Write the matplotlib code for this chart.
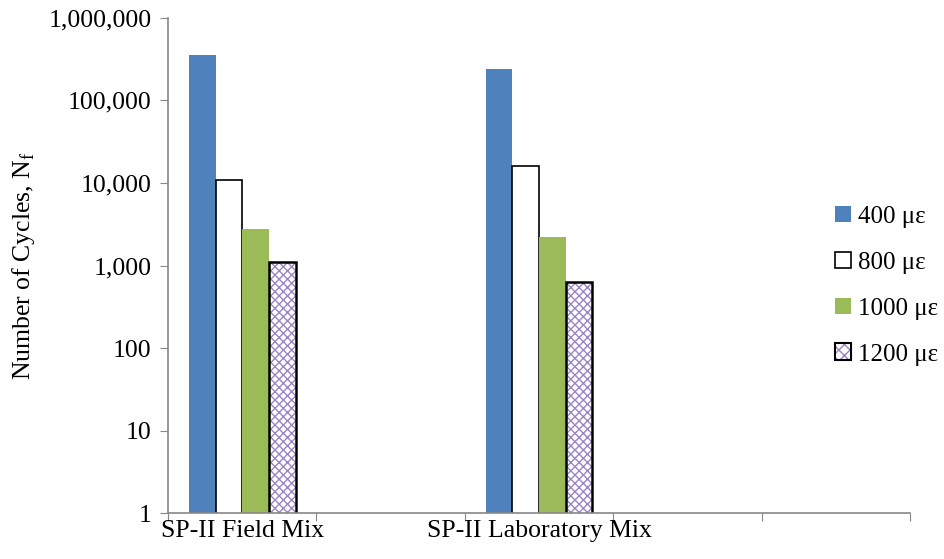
import numpy as np
import matplotlib.pyplot as plt
from matplotlib.patches import Patch
from matplotlib.ticker import FuncFormatter, FixedLocator

plt.rcParams['font.family'] = ['Liberation Serif', 'DejaVu Serif']
plt.rcParams['mathtext.fontset'] = 'custom'
plt.rcParams['mathtext.rm'] = 'Liberation Serif'
plt.rcParams['hatch.linewidth'] = 1.0

# data
categories = ['SP-II Field Mix', '', 'SP-II Laboratory Mix', '', '']
series = ['400 με', '800 με', '1000 με', '1200 με']
cycles_400 = [355000, None, 240000, None, None]
cycles_800 = [10900, None, 16100, None, None]
cycles_1000 = [2760, None, 2220, None, None]
cycles_1200 = [1100, None, 630, None, None]

fig = plt.figure(figsize=(9.44, 5.59), dpi=100)
ax = fig.add_axes([0.178, 0.082, 0.786, 0.886])

x = np.arange(len(categories))
w = 0.18
values = [cycles_400, cycles_800, cycles_1000, cycles_1200]
offsets = [-1.5, -0.5, 0.5, 1.5]
hatch_col = '#9A86C4'
fs = 18.5

for vals, off, name in zip(values, offsets, series):
    xs = [xi + off * w for xi, v in zip(x, vals) if v is not None]
    vs = [v for v in vals if v is not None]
    if name == '400 με':
        ax.bar(xs, vs, w, color='#4F81BD', edgecolor='none')
    elif name == '800 με':
        ax.bar(xs, vs, w, color='white', edgecolor='black', linewidth=1.2)
    elif name == '1000 με':
        ax.bar(xs, vs, w, color='#9BBB59', edgecolor='none')
    else:
        ax.bar(xs, vs, w, color='white', edgecolor=hatch_col, hatch='xxxx', linewidth=0)
        ax.bar(xs, vs, w, color='none', edgecolor='black', linewidth=1.8)

ax.set_yscale('log')
ax.set_ylim(1, 1e6)
ax.set_xlim(-0.5, 4.5)
ax.yaxis.set_major_locator(FixedLocator([1, 10, 100, 1e3, 1e4, 1e5, 1e6]))
ax.yaxis.set_minor_locator(FixedLocator([]))
ax.yaxis.set_major_formatter(FuncFormatter(lambda v, p: f'{int(round(v)):,}'))

# category boundaries as ticks, labels centred in each slot
ax.set_xticks(np.arange(-0.5, 5.0, 1.0))
ax.set_xticklabels([])
ax.set_xticks(x, minor=True)
ax.set_xticklabels(categories, minor=True)
ax.tick_params(axis='x', which='minor', length=0, labelsize=fs, pad=5)
ax.tick_params(axis='x', which='major', length=6, color='#888888', direction='out')
ax.tick_params(axis='y', which='major', length=6, color='#888888', labelsize=fs, pad=6)

for s in ['top', 'right']:
    ax.spines[s].set_visible(False)
for s in ['left', 'bottom']:
    ax.spines[s].set_color('#888888')
    ax.spines[s].set_linewidth(1.2)

ax.set_ylabel(r'Number of Cycles, N$_\mathregular{f}$', fontsize=fs, labelpad=8)

handles = [
    Patch(facecolor='#4F81BD', edgecolor='none'),
    Patch(facecolor='white', edgecolor='black', linewidth=1.2),
    Patch(facecolor='#9BBB59', edgecolor='none'),
    (Patch(facecolor='white', edgecolor=hatch_col, hatch='xxx', linewidth=0),
     Patch(facecolor='none', edgecolor='black', linewidth=1.5)),
]
fig.legend(handles, series, loc='center left', bbox_to_anchor=(0.874, 0.489),
           frameon=False, fontsize=18, handlelength=0.65, handleheight=0.65,
           handletextpad=0.25, labelspacing=0.95, borderaxespad=0)

fig.savefig('out.png', dpi=100)
